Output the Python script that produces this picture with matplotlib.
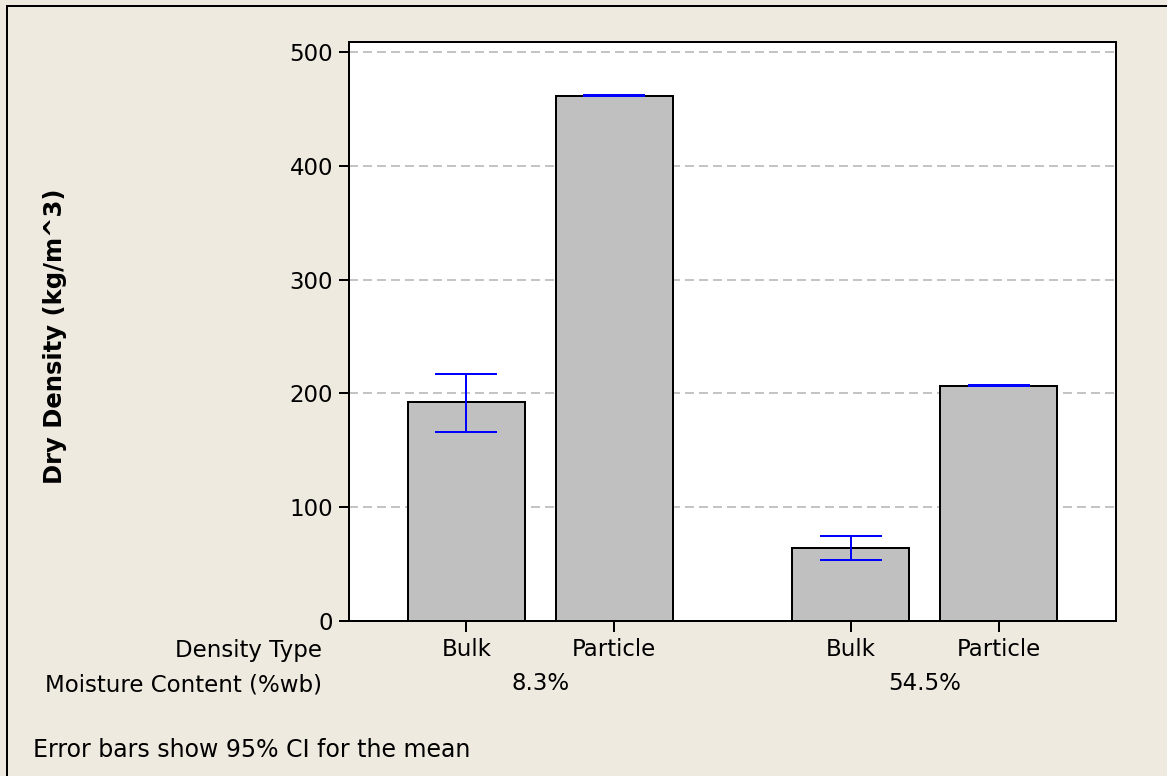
import matplotlib
matplotlib.use("Agg")
import matplotlib.pyplot as plt
from matplotlib.lines import Line2D
from matplotlib.transforms import blended_transform_factory

plt.rcParams["font.family"] = ["DejaVu Sans"]

# Data: mean dry density with 95% CI bounds
moisture_groups = ["8.3%", "54.5%"]
density_types = ["Bulk", "Particle", "Bulk", "Particle"]
means = [192.6, 461.5, 64.2, 206.9]
ci_low = [166.0, 461.2, 53.4, 206.6]
ci_high = [217.2, 461.8, 75.0, 207.2]
y_ticks = [0, 100, 200, 300, 400, 500]

BG = "#EEEAE0"
W, H = 1167, 776
FS = 16.5

fig = plt.figure(figsize=(W / 100, H / 100), dpi=100, facecolor=BG)
ax = fig.add_axes([348.7 / W, 1 - 621 / H, (1116 - 348.7) / W, (621 - 42) / H])
ax.set_facecolor("white")

# bar positions: two groups of two, wider gap between groups
xpos = [0.0, 1.0, 2.6, 3.6]
bar_w = 0.79

ax.bar(xpos, means, width=bar_w, color="#C0C0C0", edgecolor="black",
       linewidth=1.44, zorder=3)

yerr = [[m - lo for m, lo in zip(means, ci_low)],
        [hi - m for m, hi in zip(means, ci_high)]]
ax.errorbar(xpos, means, yerr=yerr, fmt="none", ecolor="#0000FF",
            elinewidth=1.44, capsize=22, capthick=1.44, zorder=4)

ax.set_xlim(-0.795, 4.392)
ax.set_ylim(0, 508.8)
ax.set_yticks(y_ticks)
ax.set_yticklabels([str(t) for t in y_ticks])
ax.set_xticks(xpos)
ax.set_xticklabels(density_types)

for t in y_ticks[1:]:
    ax.axhline(t, color="#C4C4C4", linewidth=1.44, linestyle=(0, (4.5, 2.5)),
               zorder=1)

for s in ax.spines.values():
    s.set_linewidth(1.44)
    s.set_color("black")

ax.tick_params(axis="y", direction="out", length=7.2, width=1.44,
               labelsize=FS, pad=4)
ax.tick_params(axis="x", direction="out", length=8, width=1.44,
               labelsize=FS, pad=4)

ax.set_ylabel("Dry Density (kg/m^3)", fontsize=17.5, fontweight="bold",
              labelpad=0)
ax.yaxis.set_label_coords((67 - 348.7) / (1116 - 348.7), 0.491)

# row labels for the categorical axis
fig.text(322 / W, 1 - 650 / H, "Density Type", ha="right", va="center",
         fontsize=FS)
fig.text(322 / W, 1 - 685 / H, "Moisture Content (%wb)", ha="right",
         va="center", fontsize=FS)

trans = blended_transform_factory(ax.transData, fig.transFigure)
group_centers = [(xpos[0] + xpos[1]) / 2, (xpos[2] + xpos[3]) / 2]
for gx, g in zip(group_centers, moisture_groups):
    ax.text(gx, 1 - 684 / H, g, transform=trans, ha="center", va="center",
            fontsize=FS)

fig.text(33 / W, 1 - 750 / H, "Error bars show 95% CI for the mean",
         ha="left", va="center", fontsize=17)

# outer frame (top and left edges)
fig.add_artist(Line2D([6.7 / W, 1.0], [1 - 5.7 / H, 1 - 5.7 / H],
                      transform=fig.transFigure, color="black", lw=1.44))
fig.add_artist(Line2D([6.7 / W, 6.7 / W], [0.0, 1 - 5.7 / H],
                      transform=fig.transFigure, color="black", lw=1.44))

fig.savefig("out.png", dpi=100, facecolor=BG)
